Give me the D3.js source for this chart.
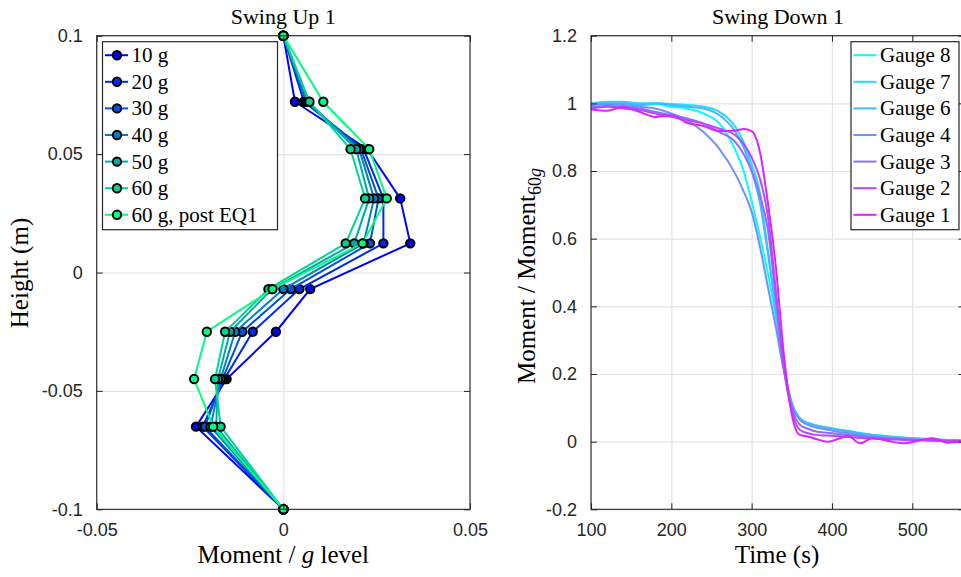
<!DOCTYPE html>
<html lang="en">
<head>
  <meta charset="UTF-8">
  <title>Swing Up / Swing Down</title>
  <script src="https://d3js.org/d3.v7.min.js"></script>
  <style>
    body { margin: 0; background: #fff; }
    svg { display: block; }
    .tick text { font-family: 'Liberation Sans', Arial, sans-serif; font-size: 18px; fill: #262626; }
    .serif { font-family: 'Liberation Serif', 'Times New Roman', serif; fill: #000; }
    .grid line { stroke: #e3e3e3; stroke-width: 1.2; }
    .grid path { display: none; }
  </style>
</head>
<body>
  <div id="chart"></div>

  <script>
    // ---- left panel: Swing Up 1 ----
    const heights = [0.1, 0.0721, 0.0521, 0.0313, 0.0123, -0.007, -0.025, -0.045, -0.0651, -0.1];
    const upLabels = ["10 g", "20 g", "30 g", "40 g", "50 g", "60 g", "60 g, post EQ1"];
    const up10 = [0, 0.0031, 0.0225, 0.0313, 0.034, 0.0072, -0.002, -0.0152, -0.0234, 0];
    const up20 = [0, 0.0055, 0.0215, 0.0268, 0.0268, 0.0043, -0.0082, -0.0158, -0.0216, 0];
    const up30 = [0, 0.0061, 0.0208, 0.0255, 0.0232, 0.002, -0.011, -0.0163, -0.021, 0];
    const up40 = [0, 0.0064, 0.0203, 0.0243, 0.0215, 0.0, -0.0129, -0.0168, -0.0195, 0];
    const up50 = [0, 0.0067, 0.0195, 0.023, 0.019, -0.003, -0.0143, -0.0175, -0.018, 0];
    const up60 = [0, 0.007, 0.018, 0.0219, 0.0167, -0.004, -0.0156, -0.0183, -0.0168, 0];
    const upPost = [0, 0.0107, 0.023, 0.0277, 0.0212, -0.0029, -0.0205, -0.0239, -0.0188, 0];
    const upSeries = [up10, up20, up30, up40, up50, up60, upPost];
    const upColors = ["#0000ff", "#002aea", "#0055d4", "#0080bf", "#00aaaa", "#00d495", "#00ff80"];

    // ---- right panel: Swing Down 1 ----
    const times = [100, 120, 140, 160, 180, 200, 220, 240, 260, 280, 290, 300, 310, 320, 330, 340, 350, 360, 370, 380, 395, 410, 420, 435, 450, 470, 490, 510, 525, 545, 563];
    const gaugeLabels = ["Gauge 8", "Gauge 7", "Gauge 6", "Gauge 4", "Gauge 3", "Gauge 2", "Gauge 1"];
    const gauge8 = [1.0, 1.0, 1.0, 0.995, 0.997, 0.99, 0.985, 0.97, 0.94, 0.86, 0.80, 0.71, 0.61, 0.50, 0.37, 0.22, 0.11, 0.065, 0.05, 0.045, 0.04, 0.034, 0.03, 0.024, 0.02, 0.015, 0.011, 0.008, 0.006, 0.004, 0.003];
    const gauge7 = [1.0, 1.005, 1.005, 1.0, 1.0, 0.998, 0.995, 0.99, 0.975, 0.93, 0.885, 0.82, 0.74, 0.57, 0.40, 0.23, 0.115, 0.07, 0.055, 0.048, 0.042, 0.035, 0.032, 0.026, 0.02, 0.016, 0.012, 0.009, 0.007, 0.005, 0.004];
    const gauge6 = [0.995, 1.0, 1.0, 0.995, 1.0, 0.995, 0.99, 0.985, 0.965, 0.915, 0.87, 0.80, 0.71, 0.56, 0.39, 0.22, 0.11, 0.068, 0.055, 0.048, 0.04, 0.033, 0.03, 0.024, 0.02, 0.014, 0.011, 0.008, 0.007, 0.005, 0.003];
    const gauge4 = [0.995, 0.998, 0.995, 0.99, 0.985, 0.97, 0.95, 0.915, 0.865, 0.79, 0.74, 0.68, 0.58, 0.46, 0.34, 0.21, 0.11, 0.065, 0.05, 0.042, 0.035, 0.028, 0.025, 0.02, 0.015, 0.011, 0.008, 0.006, 0.004, 0.003, 0.002];
    const gauge3 = [0.99, 0.992, 0.99, 0.985, 0.975, 0.965, 0.955, 0.94, 0.915, 0.885, 0.85, 0.80, 0.73, 0.63, 0.43, 0.22, 0.10, 0.05, 0.038, 0.03, 0.026, 0.022, 0.02, 0.016, 0.012, 0.009, 0.007, 0.005, 0.004, 0.003, 0.002];
    const gauge2 = [0.985, 0.99, 0.985, 0.98, 0.97, 0.96, 0.95, 0.94, 0.925, 0.905, 0.88, 0.84, 0.78, 0.67, 0.45, 0.22, 0.09, 0.035, 0.025, 0.02, 0.018, 0.016, 0.014, 0.011, 0.009, 0.007, 0.005, 0.004, 0.003, 0.002, 0.001];
    const gauge1 = [0.982, 0.978, 0.99, 0.975, 0.96, 0.965, 0.942, 0.933, 0.918, 0.92, 0.924, 0.918, 0.86, 0.71, 0.52, 0.26, 0.08, 0.02, 0.015, 0.008, 0.0, 0.01, 0.017, -0.005, 0.01, 0.002, -0.005, 0.004, 0.01, -0.003, 0.001];
    const gaugeSeries = [gauge8, gauge7, gauge6, gauge4, gauge3, gauge2, gauge1];
    const gaugeColors = ["#00ffff", "#24dbff", "#49b6ff", "#6d92ff", "#926dff", "#b649ff", "#db24ff"];

    const width = 961, height = 577;
    const svg = d3.select("#chart").append("svg")
      .attr("width", width)
      .attr("height", height);

    const plotTop = 35.7, plotBottom = 509.3;

    function drawGrid(x, y, xTicks, yTicks) {
      const [x0, x1] = x.range();
      svg.append("g").attr("class", "grid")
        .attr("transform", `translate(0,${plotBottom})`)
        .call(d3.axisBottom(x).tickValues(xTicks).tickSize(-(plotBottom - plotTop)).tickFormat(""));
      svg.append("g").attr("class", "grid")
        .attr("transform", `translate(${x0},0)`)
        .call(d3.axisLeft(y).tickValues(yTicks).tickSize(-(x1 - x0)).tickFormat(""));
    }

    function drawFrame(x, y, xTicks, yTicks, fmt) {
      const [x0, x1] = x.range();
      const ax = svg.append("g");
      const styleAxis = g => {
        g.select(".domain").remove();
        g.selectAll(".tick line").attr("stroke", "#262626");
      };
      ax.append("g").attr("transform", `translate(0,${plotBottom})`)
        .call(d3.axisBottom(x).tickValues(xTicks).tickSizeInner(-6).tickSizeOuter(0).tickPadding(14).tickFormat(fmt))
        .call(styleAxis);
      ax.append("g").attr("transform", `translate(0,${plotTop})`)
        .call(d3.axisTop(x).tickValues(xTicks).tickSizeInner(-6).tickSizeOuter(0).tickFormat(""))
        .call(styleAxis);
      ax.append("g").attr("transform", `translate(${x0},0)`)
        .call(d3.axisLeft(y).tickValues(yTicks).tickSizeInner(-6).tickSizeOuter(0).tickPadding(14).tickFormat(fmt))
        .call(styleAxis);
      ax.append("g").attr("transform", `translate(${x1},0)`)
        .call(d3.axisRight(y).tickValues(yTicks).tickSizeInner(-6).tickSizeOuter(0).tickFormat(""))
        .call(styleAxis);
      ax.append("rect")
        .attr("x", x0).attr("y", plotTop)
        .attr("width", x1 - x0).attr("height", plotBottom - plotTop)
        .attr("fill", "none").attr("stroke", "#262626").attr("stroke-width", 1.1);
      ax.selectAll(".tick text").attr("fill", "#262626");
    }

    // plain hyphen for negatives, like the original
    const fmt = d => String(d);

    // ---------- left ----------
    const xL = d3.scaleLinear().domain([-0.05, 0.05]).range([96.7, 470]);
    const yL = d3.scaleLinear().domain([-0.1, 0.1]).range([plotBottom, plotTop]);
    const xTicksL = [-0.05, 0, 0.05], yTicksL = [-0.1, -0.05, 0, 0.05, 0.1];
    drawGrid(xL, yL, xTicksL, yTicksL);

    const lineL = d3.line().x(d => xL(d[0])).y(d => yL(d[1]));
    upSeries.forEach((s, i) => {
      const pts = s.map((v, j) => [v, heights[j]]);
      const g = svg.append("g");
      g.append("path").attr("d", lineL(pts))
        .attr("fill", "none").attr("stroke", upColors[i]).attr("stroke-width", 2);
      g.selectAll("circle").data(pts).enter().append("circle")
        .attr("cx", d => xL(d[0])).attr("cy", d => yL(d[1])).attr("r", 4.2)
        .attr("fill", upColors[i]).attr("stroke", "#000").attr("stroke-width", 2);
    });
    drawFrame(xL, yL, xTicksL, yTicksL, fmt);

    // ---------- right ----------
    const xR = d3.scaleLinear().domain([100, 565]).range([591, 964.5]);
    const yR = d3.scaleLinear().domain([-0.2, 1.2]).range([plotBottom, plotTop]);
    const xTicksR = [100, 200, 300, 400, 500], yTicksR = d3.range(-0.2, 1.21, 0.2).map(v => +v.toFixed(1));
    drawGrid(xR, yR, xTicksR, yTicksR);

    const lineR = d3.line().x(d => xR(d[0])).y(d => yR(d[1])).curve(d3.curveMonotoneX);
    gaugeSeries.forEach((s, i) => {
      const pts = s.map((v, j) => [times[j], v]);
      svg.append("path").attr("d", lineR(pts))
        .attr("fill", "none").attr("stroke", gaugeColors[i]).attr("stroke-width", 2);
    });
    drawFrame(xR, yR, xTicksR, yTicksR, fmt);

    // ---------- titles & labels ----------
    const text = (x, y, size, rot) => {
      const t = svg.append("text").attr("class", "serif")
        .attr("x", x).attr("y", y).attr("text-anchor", "middle")
        .style("font-size", size + "px");
      if (rot) t.attr("transform", `rotate(-90,${x},${y})`);
      return t;
    };
    text(283.3, 24, 22).text("Swing Up 1");
    text(778, 24, 22).text("Swing Down 1");

    text(28, 273, 25, true).text("Height (m)");
    const xl = text(283.3, 563, 25);
    xl.append("tspan").text("Moment / ");
    xl.append("tspan").style("font-style", "italic").text("g");
    xl.append("tspan").text(" level");
    text(777, 563, 25).text("Time (s)");

    const yl = text(535, 276, 25, true);
    yl.append("tspan").text("Moment / Moment");
    yl.append("tspan").attr("dy", 6).style("font-size", "18px").text("60");
    yl.append("tspan").style("font-size", "18px").style("font-style", "italic").text("g");

    // ---------- legends ----------
    function legend(x0, y0, w, h, labels, colors, markers) {
      const g = svg.append("g");
      g.append("rect").attr("x", x0).attr("y", y0).attr("width", w).attr("height", h)
        .attr("fill", "#fff").attr("stroke", "#262626").attr("stroke-width", 1.2);
      labels.forEach((lab, i) => {
        const yy = y0 + 13.5 + i * 26.6;
        g.append("line").attr("x1", x0 + 2.5).attr("x2", x0 + 25.5).attr("y1", yy).attr("y2", yy)
          .attr("stroke", colors[i]).attr("stroke-width", 2);
        if (markers) g.append("circle").attr("cx", x0 + 14.5).attr("cy", yy).attr("r", 4.2)
          .attr("fill", colors[i]).attr("stroke", "#000").attr("stroke-width", 2);
        g.append("text").attr("class", "serif").attr("x", x0 + 29).attr("y", yy + 7)
          .style("font-size", "21px").text(lab);
      });
    }
    legend(102.5, 41.7, 175, 188, upLabels, upColors, true);
    legend(851, 41.7, 108, 188, gaugeLabels, gaugeColors, false);
  </script>
</body>
</html>
